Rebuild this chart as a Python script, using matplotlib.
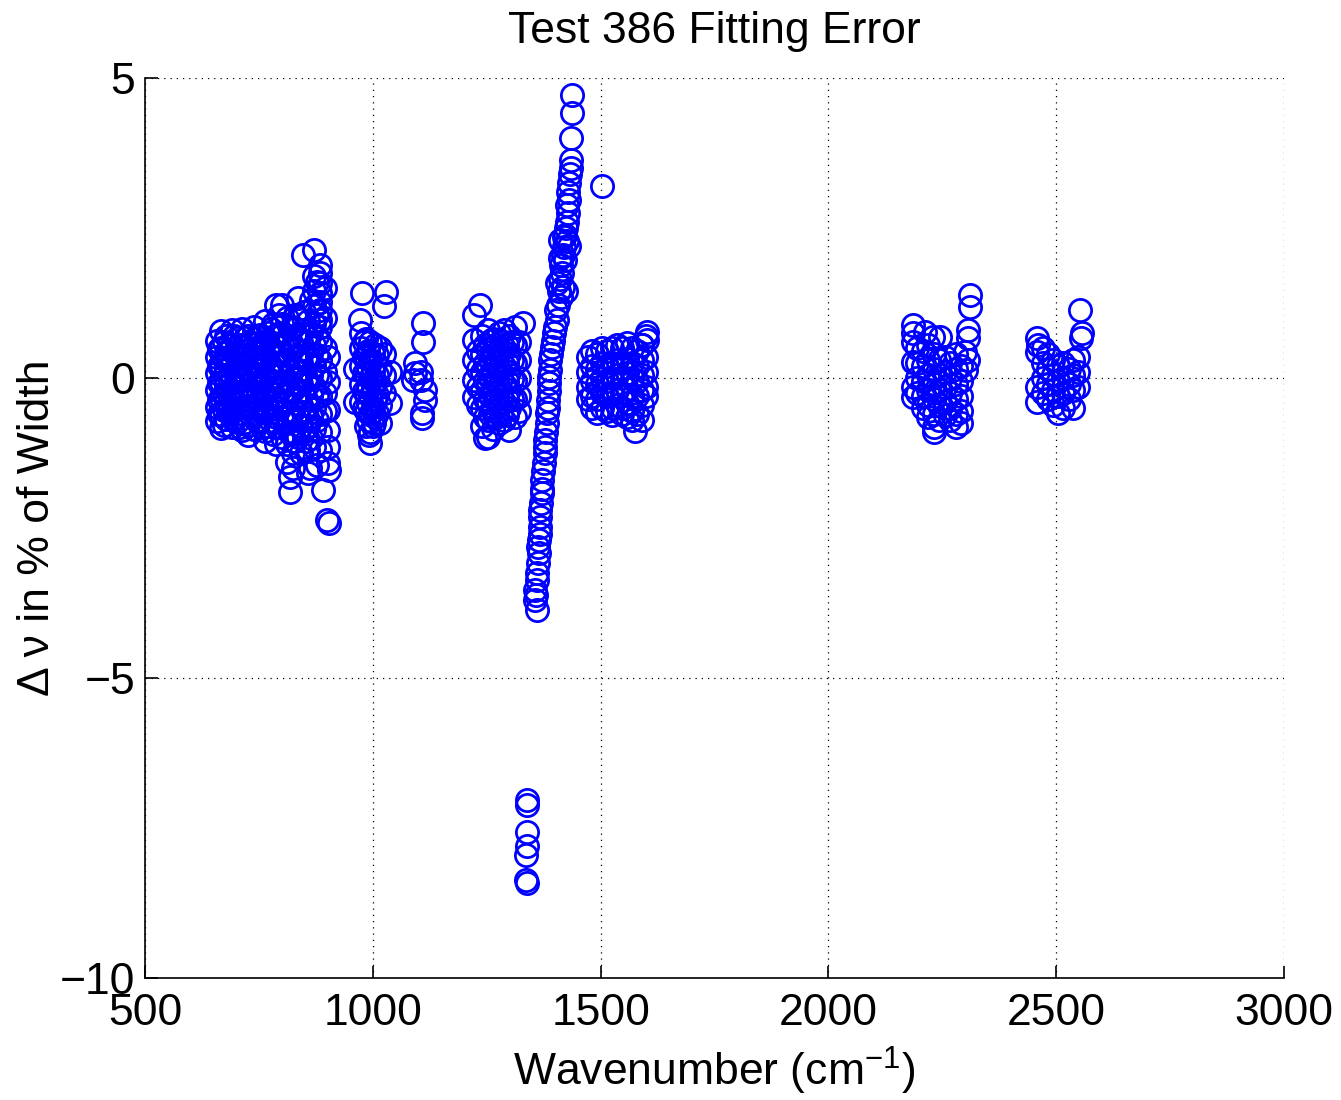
import matplotlib
matplotlib.use("Agg")
import matplotlib.pyplot as plt
import numpy as np

# Fitting error (delta nu, % of line width) versus wavenumber, grouped by band.
band_650_800 = [
    (658, 0.62), (658, 0.35), (658, 0.08), (658, -0.2), (658, -0.48), (658, -0.72),
    (667, 0.78), (667, 0.5), (667, 0.22), (667, -0.06), (667, -0.34), (667, -0.62), (667, -0.84),
    (678, 0.7), (678, 0.42), (678, 0.14), (678, -0.12), (678, -0.4), (678, -0.68),
    (690, 0.8), (690, 0.55), (690, 0.28), (690, 0.0), (690, -0.28), (690, -0.56), (690, -0.82),
    (702, 0.66), (702, 0.38), (702, 0.1), (702, -0.16), (702, -0.44), (702, -0.74),
    (714, 0.82), (714, 0.52), (714, 0.24), (714, -0.04), (714, -0.32), (714, -0.6), (714, -0.86),
    (727, 0.7), (727, 0.4), (727, 0.12), (727, -0.18), (727, -0.46), (727, -0.78), (727, -0.95),
    (740, 0.85), (740, 0.56), (740, 0.28), (740, 0.02), (740, -0.3), (740, -0.58), (740, -0.85),
    (752, 0.72), (752, 0.44), (752, 0.14), (752, -0.14), (752, -0.42), (752, -0.7),
    (764, 0.95), (764, 0.6), (764, 0.3), (764, 0.04), (764, -0.26), (764, -0.56), (764, -0.88), (764, -1.05),
    (776, 0.82), (776, 0.5), (776, 0.2), (776, -0.1), (776, -0.4), (776, -0.72),
    (788, 1.22), (788, 0.72), (788, 0.4), (788, 0.1), (788, -0.2), (788, -0.5), (788, -0.8), (788, -1.1),
    (800, 1.22), (800, 0.9), (800, 0.58), (800, 0.26), (800, -0.06), (800, -0.36), (800, -0.66), (800, -0.98),
    (662, 0.48), (662, 0.2), (662, -0.08), (662, -0.36), (662, -0.6),
    (673, 0.6), (673, 0.32), (673, 0.04), (673, -0.26), (673, -0.54), (673, -0.78),
    (684, 0.56), (684, 0.28), (684, 0.0), (684, -0.28), (684, -0.55),
    (696, 0.7), (696, 0.42), (696, 0.12), (696, -0.14), (696, -0.42), (696, -0.7),
    (708, 0.55), (708, 0.25), (708, -0.02), (708, -0.3), (708, -0.58), (708, -0.82),
    (720, 0.66), (720, 0.38), (720, 0.08), (720, -0.2), (720, -0.48), (720, -0.74),
    (733, 0.58), (733, 0.28), (733, -0.02), (733, -0.32), (733, -0.62),
    (746, 0.7), (746, 0.42), (746, 0.14), (746, -0.16), (746, -0.44), (746, -0.72),
    (758, 0.58), (758, 0.3), (758, 0.0), (758, -0.28), (758, -0.56), (758, -0.82),
    (770, 0.75), (770, 0.44), (770, 0.12), (770, -0.18), (770, -0.5), (770, -0.8),
    (782, 0.9), (782, 0.58), (782, 0.26), (782, -0.05), (782, -0.34), (782, -0.64), (782, -0.94),
    (794, 1.05), (794, 0.74), (794, 0.42), (794, 0.1), (794, -0.22), (794, -0.52), (794, -0.82),
]

band_810_905 = [
    (812, 1.0), (812, 0.65), (812, 0.3), (812, -0.05), (812, -0.4), (812, -0.75), (812, -1.1), (812, -1.4),
    (818, -1.9), (818, -1.65), (818, 0.82), (818, 0.48), (818, 0.12), (818, -0.22), (818, -0.58), (818, -0.92),
    (824, 0.85), (824, 0.5), (824, 0.15), (824, -0.2), (824, -0.55), (824, -0.9), (824, -1.25), (824, -1.5),
    (830, 1.05), (830, 0.7), (830, 0.35), (830, 0.0), (830, -0.35), (830, -0.7), (830, -1.05),
    (836, 1.33), (836, 1.0), (836, 0.68), (836, 0.35), (836, 0.02), (836, -0.32), (836, -0.65), (836, -0.98),
    (842, 0.6), (842, 0.25), (842, -0.1), (842, -0.45), (842, -0.8), (842, -1.25),
    (847, 2.05), (847, 0.8), (847, 0.45), (847, 0.12), (847, -0.22), (847, -0.56), (847, -0.9),
    (850, 1.1),
    (853, 0.7), (853, 0.35), (853, 0.0), (853, -0.35), (853, -0.7), (853, -1.05),
    (858, 0.95), (858, 0.6), (858, 0.25), (858, -0.1), (858, -0.45), (858, -0.8), (858, -1.2), (858, -1.58),
    (862, -1.5),
    (865, 1.3), (865, 0.75), (865, 0.4), (865, 0.05), (865, -0.3), (865, -0.65), (865, -1.0),
    (871, 2.13), (871, 1.7), (871, 1.45), (871, 1.2), (871, 0.9), (871, 0.55), (871, 0.2),
    (871, -0.15), (871, -0.5), (871, -0.85), (871, -1.15),
    (878, -1.45), (878, 1.6), (878, 1.05), (878, 0.7), (878, 0.38), (878, 0.05), (878, -0.3), (878, -0.7),
    (884, 1.88), (884, 1.75), (884, 1.58), (884, 1.42), (884, 1.27), (884, 1.13), (884, 0.97),
    (884, 0.85), (884, 0.6), (884, 0.3), (884, 0.0), (884, -0.3), (884, -0.6), (884, -0.9), (884, -1.2),
    (891, -1.87),
    (895, 1.5), (895, 1.0), (895, 0.5), (895, 0.1), (895, -0.25), (895, -0.55),
    (902, 0.35), (902, -0.07), (902, -0.53), (902, -0.87), (902, -1.15), (902, -1.42),
    (900, -2.37), (905, -2.42), (905, -1.53),
]

band_960_1040 = [
    (976, 1.42), (1029, 1.43), (1025, 1.2), (972, 0.97),
    (962, 0.15), (962, -0.4),
    (975, 0.75), (975, 0.5), (975, 0.2), (975, -0.1), (975, -0.4),
    (985, 0.65), (985, 0.35), (985, 0.05), (985, -0.25), (985, -0.55), (985, -0.8),
    (995, 0.6), (995, 0.3), (995, 0.0), (995, -0.3), (995, -0.6), (995, -0.9), (995, -1.08),
    (1005, 0.55), (1005, 0.25), (1005, -0.05), (1005, -0.35), (1005, -0.65),
    (1015, 0.5), (1015, 0.15), (1015, -0.15), (1015, -0.45), (1015, -0.75),
    (1025, 0.4), (1025, 0.05), (1025, -0.25),
    (1038, -0.42), (1038, 0.1), (992, -0.95), (1003, -0.75),
    (980, 0.6), (980, 0.35), (980, 0.08), (980, -0.22), (980, -0.5),
    (990, 0.45), (990, 0.18), (990, -0.12), (990, -0.42), (990, -0.7),
    (1000, 0.4), (1000, 0.12), (1000, -0.18), (1000, -0.48), (1000, -0.8),
    (1010, 0.38), (1010, 0.05), (1010, -0.28), (1010, -0.58),
]

band_1090_1115 = [
    (1110, 0.92), (1110, 0.6), (1093, 0.25), (1093, 0.08), (1088, -0.03),
    (1105, -0.03), (1105, 0.1), (1115, -0.2), (1115, -0.37), (1108, -0.58), (1108, -0.67),
]

band_1215_1330 = [
    (1235, 1.22), (1222, 1.05), (1330, 0.92),
    (1222, 0.63), (1222, 0.3), (1222, -0.03), (1222, -0.32),
    (1230, 0.45), (1230, 0.15), (1230, -0.15), (1230, -0.45),
    (1240, 0.7), (1240, 0.4), (1240, 0.1), (1240, -0.2), (1240, -0.5), (1240, -0.8),
    (1252, 0.8), (1252, 0.5), (1252, 0.2), (1252, -0.1), (1252, -0.4), (1252, -0.7), (1252, -0.98),
    (1264, 0.65), (1264, 0.35), (1264, 0.05), (1264, -0.25), (1264, -0.55), (1264, -0.85),
    (1276, 0.75), (1276, 0.45), (1276, 0.15), (1276, -0.15), (1276, -0.45), (1276, -0.75),
    (1288, 0.8), (1288, 0.5), (1288, 0.2), (1288, -0.1), (1288, -0.4), (1288, -0.7),
    (1300, 0.7), (1300, 0.4), (1300, 0.1), (1300, -0.2), (1300, -0.5), (1300, -0.87),
    (1312, 0.85), (1312, 0.55), (1312, 0.25), (1312, -0.05), (1312, -0.35), (1312, -0.65),
    (1322, 0.6), (1322, 0.3), (1322, 0.0), (1322, -0.3), (1322, -0.55),
    (1246, -1.0),
    (1246, 0.55), (1246, 0.25), (1246, -0.05), (1246, -0.35), (1246, -0.65),
    (1258, 0.62), (1258, 0.3), (1258, 0.0), (1258, -0.3), (1258, -0.6),
    (1270, 0.55), (1270, 0.25), (1270, -0.05), (1270, -0.35), (1270, -0.65),
    (1282, 0.62), (1282, 0.3), (1282, 0.0), (1282, -0.3), (1282, -0.6),
    (1294, 0.55), (1294, 0.25), (1294, -0.05), (1294, -0.35), (1294, -0.62),
    (1306, 0.6), (1306, 0.3), (1306, -0.02), (1306, -0.35),
]

band_1355_1440 = [
    (1437, 4.72), (1437, 4.42), (1436, 4.0), (1435, 3.63), (1434, 3.5), (1432, 3.4),
    (1430, 3.25), (1428, 3.1), (1430, 2.97), (1426, 2.88), (1428, 2.75), (1427, 2.6),
    (1424, 2.5), (1422, 2.38), (1426, 2.28), (1420, 2.18), (1418, 2.05), (1422, 1.97),
    (1414, 1.88), (1416, 1.75), (1412, 1.65), (1418, 1.52), (1408, 1.45), (1413, 1.35),
    (1406, 1.22), (1402, 1.13), (1404, 0.97), (1400, 0.85), (1398, 0.75), (1396, 0.62),
    (1394, 0.52), (1392, 0.4), (1390, 0.3), (1390, 0.13), (1387, 0.02), (1386, -0.08),
    (1386, -0.22), (1385, -0.37), (1384, -0.5), (1383, -0.58), (1382, -0.75), (1380, -0.9),
    (1378, -1.03), (1378, -1.15), (1377, -1.25), (1376, -1.42), (1374, -1.55), (1372, -1.7),
    (1372, -1.85), (1371, -1.92), (1370, -2.08), (1368, -2.2), (1368, -2.32), (1366, -2.48),
    (1367, -2.6), (1364, -2.7), (1363, -2.82), (1364, -2.92), (1362, -3.08), (1360, -3.25),
    (1361, -3.37), (1357, -3.53), (1359, -3.62), (1357, -3.7), (1360, -3.87),
    (1424, 1.45), (1404, 1.58), (1420, 2.35), (1410, 2.3), (1430, 2.2), (1410, 2.0),
]

outliers = [
    (1503, 3.2),
    (1338, -7.03), (1339, -7.12), (1338, -7.57), (1338, -7.8), (1337, -7.95),
    (1337, -8.37), (1338, -8.42),
]

band_1470_1605 = [
    (1602, 0.77), (1602, 0.63), (1592, 0.55),
    (1472, 0.35), (1472, 0.1), (1472, -0.15), (1472, -0.35),
    (1482, 0.45), (1482, 0.2), (1482, -0.05), (1482, -0.3), (1482, -0.5),
    (1492, 0.4), (1492, 0.15), (1492, -0.1), (1492, -0.35), (1492, -0.58),
    (1503, 0.5), (1503, 0.25), (1503, 0.0), (1503, -0.25), (1503, -0.5),
    (1514, 0.45), (1514, 0.2), (1514, -0.05), (1514, -0.3), (1514, -0.55),
    (1525, 0.5), (1525, 0.25), (1525, 0.0), (1525, -0.25), (1525, -0.5), (1525, -0.62),
    (1536, 0.55), (1536, 0.3), (1536, 0.05), (1536, -0.2), (1536, -0.45),
    (1547, 0.5), (1547, 0.25), (1547, 0.0), (1547, -0.25), (1547, -0.5), (1547, -0.6),
    (1558, 0.58), (1558, 0.32), (1558, 0.08), (1558, -0.18), (1558, -0.42), (1558, -0.65),
    (1569, 0.5), (1569, 0.25), (1569, 0.0), (1569, -0.3), (1569, -0.55), (1569, -0.7),
    (1576, -0.88),
    (1580, 0.45), (1580, 0.2), (1580, -0.05), (1580, -0.3), (1580, -0.6),
    (1590, 0.55), (1590, 0.3), (1590, 0.05), (1590, -0.2), (1590, -0.45), (1590, -0.7),
    (1600, 0.7), (1600, 0.35), (1600, 0.1), (1600, -0.15), (1600, -0.3),
]

band_2185_2310 = [
    (2186, 0.88), (2186, 0.75), (2212, 0.77), (2230, 0.68), (2245, 0.68),
    (2186, 0.6), (2186, 0.27), (2186, -0.32), (2186, -0.15),
    (2311, 1.38), (2311, 1.18), (2306, 0.8), (2306, 0.67), (2300, 0.43), (2306, 0.3), (2303, 0.13),
    (2195, 0.5), (2195, 0.25), (2195, 0.0), (2195, -0.25),
    (2207, 0.45), (2207, 0.2), (2207, -0.05), (2207, -0.3), (2207, -0.5),
    (2219, 0.55), (2219, 0.3), (2219, 0.05), (2219, -0.2), (2219, -0.45), (2219, -0.65),
    (2231, 0.4), (2231, 0.15), (2231, -0.1), (2231, -0.35), (2231, -0.6), (2231, -0.82),
    (2243, 0.3), (2243, 0.05), (2243, -0.2), (2243, -0.45), (2243, -0.7),
    (2255, 0.35), (2255, 0.1), (2255, -0.15), (2255, -0.4), (2255, -0.62),
    (2267, 0.25), (2267, 0.0), (2267, -0.25), (2267, -0.5), (2267, -0.7),
    (2279, 0.4), (2279, 0.15), (2279, -0.1), (2279, -0.35), (2279, -0.6), (2279, -0.82),
    (2291, 0.2), (2291, -0.05), (2291, -0.3), (2291, -0.55), (2291, -0.75),
    (2232, -0.9),
]

band_2455_2560 = [
    (2552, 1.13), (2557, 0.75), (2555, 0.67), (2458, 0.67), (2460, 0.55), (2458, 0.43),
    (2458, -0.15), (2458, -0.4),
    (2470, 0.5), (2470, 0.25), (2470, 0.0), (2470, -0.25),
    (2482, 0.4), (2482, 0.15), (2482, -0.1), (2482, -0.35),
    (2494, 0.3), (2494, 0.05), (2494, -0.2), (2494, -0.45),
    (2504, 0.2), (2504, -0.05), (2504, -0.3), (2504, -0.58),
    (2516, 0.25), (2516, 0.0), (2516, -0.25), (2516, -0.5),
    (2528, 0.15), (2528, -0.1), (2528, -0.35),
    (2537, 0.3), (2537, 0.05), (2537, -0.2), (2537, -0.5),
    (2548, 0.35), (2548, 0.1), (2548, -0.15),
]

x_ticks = [500, 1000, 1500, 2000, 2500, 3000]
y_ticks = [-10, -5, 0, 5]

plt.rcParams['font.family'] = ['Liberation Sans', 'DejaVu Sans']
plt.rcParams['mathtext.default'] = 'regular'

fig = plt.figure(figsize=(13.41, 11.0), dpi=100)
ax = fig.add_axes([0.1081, 0.1109, 0.8494, 0.8182])

bands = [band_650_800, band_810_905, band_960_1040, band_1090_1115, band_1215_1330,
         band_1355_1440, outliers, band_1470_1605, band_2185_2310, band_2455_2560]
for band in bands:
    arr = np.array(band, dtype=float)
    ax.plot(arr[:, 0], arr[:, 1], linestyle='none', marker='o', markersize=16,
            markerfacecolor='none', markeredgecolor=(0, 0, 1), markeredgewidth=2.0,
            clip_on=False)

ax.set_xlim(500, 3000)
ax.set_ylim(-10, 5)
ax.set_xticks(x_ticks)
ax.set_yticks(y_ticks)
ax.set_yticklabels(['\u221210', '\u22125', '0', '5'])

ax.grid(True, color='black', linestyle=(0, (1, 4)), linewidth=0.9)
ax.set_axisbelow(True)

for side in ('top', 'right'):
    ax.spines[side].set_visible(False)
for side in ('left', 'bottom'):
    ax.spines[side].set_linewidth(1.2)

ax.tick_params(direction='in', length=9, width=1.2, labelsize=32, top=False, right=False)
ax.tick_params(axis='x', pad=11)
ax.tick_params(axis='y', pad=7)

ax.set_title('Test 386 Fitting Error', fontsize=32, pad=25)
ax.set_xlabel('Wavenumber (cm$^{-1}$)', fontsize=32, labelpad=8)
ax.set_ylabel('\u0394 \u03bd in % of Width', fontsize=32, labelpad=1)

fig.savefig('out.png', dpi=100)
